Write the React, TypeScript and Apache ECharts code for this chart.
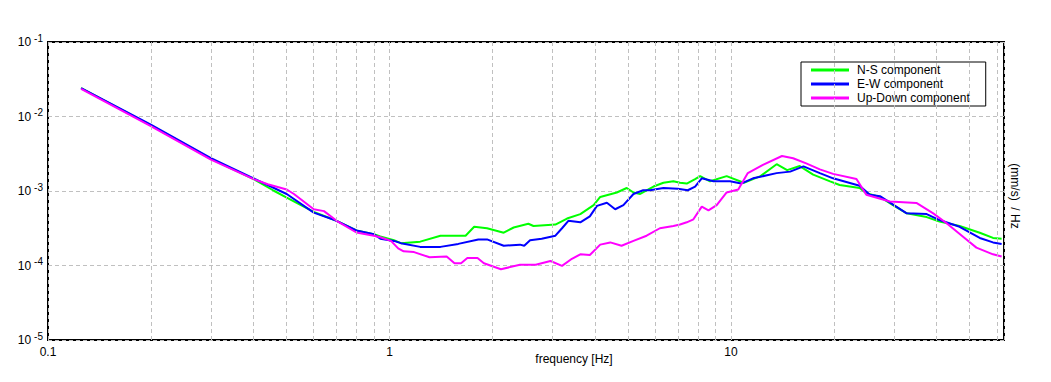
import React, { useEffect, useRef } from "react";
import * as echarts from "echarts";

// [frequency Hz, log10 amplitude (mm/s)/Hz]
const nsPoints: [number, number][] = [
  [0.125, -1.62], [0.2, -2.12], [0.3, -2.57], [0.4, -2.84], [0.46, -3.0], [0.5, -3.09], [0.6, -3.28], [0.7, -3.4], [0.8, -3.53], [0.9, -3.58],
  [0.94, -3.61], [1.03, -3.66], [1.08, -3.7], [1.23, -3.68], [1.41, -3.6], [1.67, -3.6], [1.77, -3.48], [1.93, -3.5], [2.16, -3.56], [2.31, -3.49],
  [2.55, -3.44], [2.64, -3.47], [3.06, -3.45], [3.31, -3.37], [3.62, -3.31], [3.96, -3.19], [4.14, -3.08], [4.63, -3.02], [4.95, -2.96], [5.18, -3.02],
  [5.42, -3.04], [5.93, -2.94], [6.34, -2.89], [6.78, -2.87], [7.09, -2.89], [7.42, -2.9], [7.85, -2.84], [8.12, -2.8], [8.68, -2.87], [9.71, -2.8],
  [10.9, -2.89], [12.2, -2.8], [13.6, -2.64], [14.6, -2.72], [15.9, -2.665], [17.4, -2.78], [19.5, -2.87], [20.8, -2.92], [23.8, -2.96], [24.9, -3.03],
  [27.3, -3.08], [29.8, -3.19], [32.7, -3.3], [37.4, -3.35], [40.8, -3.41], [46.7, -3.47], [53.5, -3.56], [58.5, -3.63], [62, -3.64],
];

const ewPoints: [number, number][] = [
  [0.125, -1.62], [0.2, -2.11], [0.3, -2.56], [0.4, -2.83], [0.5, -3.04], [0.6, -3.29], [0.7, -3.4], [0.8, -3.53], [0.9, -3.58], [0.94, -3.64],
  [1.03, -3.67], [1.08, -3.7], [1.23, -3.75], [1.41, -3.75], [1.59, -3.71], [1.82, -3.65], [1.93, -3.65], [2.16, -3.735], [2.41, -3.72], [2.48, -3.735],
  [2.58, -3.66], [2.79, -3.64], [3.06, -3.6], [3.2, -3.5], [3.34, -3.4], [3.62, -3.42], [3.86, -3.34], [4.05, -3.2], [4.33, -3.157], [4.58, -3.245],
  [4.84, -3.19], [5.18, -3.04], [5.53, -2.99], [5.79, -2.99], [6.34, -2.96], [6.98, -2.97], [7.47, -2.99], [7.85, -2.94], [8.21, -2.83], [8.89, -2.87],
  [9.94, -2.87], [10.7, -2.9], [11.6, -2.83], [13.6, -2.76], [14.9, -2.74], [16.3, -2.67], [18.2, -2.76], [19.9, -2.83], [23.8, -2.93], [25.5, -3.05],
  [27.3, -3.07], [32.7, -3.3], [37.4, -3.31], [40.8, -3.39], [46.7, -3.48], [53.5, -3.63], [58.5, -3.69], [62, -3.71],
];

const udPoints: [number, number][] = [
  [0.125, -1.63], [0.2, -2.13], [0.3, -2.58], [0.4, -2.84], [0.44, -2.91], [0.5, -2.98], [0.525, -3.04], [0.6, -3.245], [0.643, -3.27], [0.7, -3.4],
  [0.8, -3.557], [0.9, -3.6], [0.94, -3.62], [1.01, -3.67], [1.06, -3.77], [1.1, -3.81], [1.18, -3.82], [1.31, -3.89], [1.47, -3.88], [1.55, -3.97],
  [1.62, -3.97], [1.69, -3.9], [1.81, -3.9], [1.89, -3.97], [2.12, -4.05], [2.41, -3.99], [2.68, -3.99], [2.96, -3.94], [3.2, -4.005], [3.42, -3.91],
  [3.62, -3.85], [3.86, -3.86], [4.14, -3.72], [4.43, -3.69], [4.78, -3.735], [5.18, -3.67], [5.66, -3.6], [6.19, -3.5], [6.78, -3.47], [7.09, -3.45],
  [7.42, -3.42], [7.76, -3.38], [8.21, -3.21], [8.59, -3.26], [9.08, -3.19], [9.71, -3.02], [10.5, -2.98], [11.2, -2.76], [12.4, -2.65], [14.1, -2.53],
  [15.2, -2.56], [16.6, -2.63], [18.2, -2.71], [19.9, -2.77], [23.3, -2.84], [24.9, -3.05], [29.2, -3.14], [34.9, -3.16], [39.1, -3.3], [42.7, -3.43],
  [48.9, -3.65], [52.3, -3.76], [58.5, -3.85], [62, -3.88],
];

const seriesNames = ["N-S component", "E-W component", "Up-Down component"];
const seriesColors = ["#00ff00", "#0000ff", "#ff00ff"];
const xTickValues = [0.1, 1, 10];
const xTickLabels = ["0.1", "1", "10"];
const minorGridFreqs = [0.2, 0.3, 0.4, 0.5, 0.6, 0.7, 0.8, 0.9, 2, 3, 4, 5, 6, 7, 8, 9, 20, 30, 40, 50, 60];
const xTitle = "frequency [Hz]";
const yTitle = "(mm/s)  / Hz";

const FONT = "'Liberation Sans', Arial, sans-serif";

export default function App() {
  const ref = useRef<HTMLDivElement>(null);

  useEffect(() => {
    document.body.style.margin = "0";
    const chart = echarts.init(ref.current!, null, { renderer: "svg" });
    const toData = (pts: [number, number][]) => pts.map(([f, l]) => [f, Math.pow(10, l)]);
    const dataSets = [nsPoints, ewPoints, udPoints];
    const gridDash = { type: [4, 3] as any, color: "#c0c0c0", width: 1 };

    chart.setOption({
      animation: false,
      backgroundColor: "#ffffff",
      textStyle: { fontFamily: FONT },
      grid: {
        left: 48, right: 47, top: 42, bottom: 42,
        show: true, borderColor: "#000", borderWidth: 2, backgroundColor: "transparent",
      },
      legend: {
        orient: "vertical",
        left: 801, top: 62,
        backgroundColor: "#fff",
        borderColor: "#000",
        borderWidth: 1,
        borderRadius: 0,
        padding: [1, 16, 1, 10],
        itemWidth: 38,
        itemHeight: 3,
        itemGap: 0,
        icon: "rect",
        textStyle: { fontSize: 12, color: "#000", lineHeight: 14, fontFamily: FONT, padding: [0, 0, 0, 3] },
        data: seriesNames,
      },
      xAxis: {
        type: "log",
        logBase: 10,
        min: 0.1,
        max: 63,
        axisLine: { show: false },
        axisTick: { show: false },
        splitLine: { show: true, lineStyle: gridDash },
        axisLabel: {
          color: "#000",
          fontSize: 12,
          margin: 6,
          showMaxLabel: false,
          formatter: (v: number) => {
            const i = xTickValues.findIndex((t) => Math.abs(Math.log10(t) - Math.log10(v)) < 1e-6);
            return i >= 0 ? xTickLabels[i] : "";
          },
        },
      },
      yAxis: {
        type: "log",
        logBase: 10,
        min: 1e-5,
        max: 0.1,
        axisLine: { show: false },
        axisTick: { show: false },
        splitLine: { show: true, lineStyle: gridDash },
        axisLabel: {
          margin: 5,
          formatter: (v: number) => `{b|10}{s|${Math.round(Math.log10(v))}}`,
          rich: {
            b: { fontSize: 12, color: "#000", fontFamily: FONT },
            s: { fontSize: 10, color: "#000", fontFamily: FONT, padding: [0, 0, 8, 3] },
          },
        },
      },
      series: [
        {
          name: "minor-grid",
          type: "line",
          data: [],
          z: 1,
          silent: true,
          markLine: {
            silent: true,
            symbol: ["none", "none"],
            label: { show: false },
            lineStyle: gridDash,
            data: minorGridFreqs.map((f) => ({ xAxis: f })),
          },
        },
        ...seriesNames.map((name, i) => ({
          name,
          type: "line",
          z: 2 + i,
          showSymbol: false,
          symbol: "none",
          color: seriesColors[i],
          itemStyle: { color: seriesColors[i] },
          lineStyle: { color: seriesColors[i], width: 2 },
          data: toData(dataSets[i]),
        })),
      ],
      graphic: [
        {
          type: "text",
          x: 574,
          y: 359,
          style: {
            text: xTitle, fill: "#000", font: `12px ${FONT}`,
            textAlign: "center", textVerticalAlign: "middle", align: "center", verticalAlign: "middle",
          },
        },
        {
          type: "text",
          x: 1015,
          y: 196,
          rotation: -Math.PI / 2,
          style: {
            text: yTitle, fill: "#000", font: `12px ${FONT}`,
            textAlign: "center", textVerticalAlign: "middle", align: "center", verticalAlign: "middle",
          },
        },
      ],
    });
    return () => chart.dispose();
  }, []);

  return <div ref={ref} style={{ width: 1051, height: 382 }} />;
}
